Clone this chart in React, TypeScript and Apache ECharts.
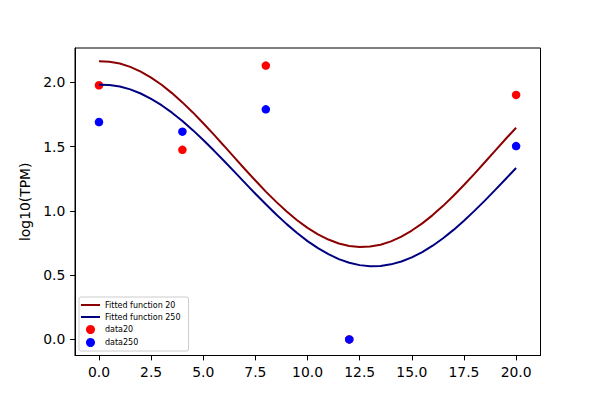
import React, { useEffect, useRef } from "react";
import * as echarts from "echarts";

const curveX = [
  0, 0.5, 1, 1.5, 2, 2.5, 3, 3.5, 4, 4.5, 5, 5.5, 6, 6.5, 7, 7.5, 8, 8.5, 9, 9.5, 10,
  10.5, 11, 11.5, 12, 12.5, 13, 13.5, 14, 14.5, 15, 15.5, 16, 16.5, 17, 17.5, 18, 18.5, 19, 19.5, 20,
];
const fit20 = [
  2.164, 2.160, 2.146, 2.120, 2.083, 2.037, 1.981, 1.916, 1.844, 1.766, 1.682, 1.595, 1.505, 1.414, 1.324, 1.236, 1.150, 1.070, 0.995, 0.927, 0.868,
  0.817, 0.777, 0.746, 0.727, 0.719, 0.723, 0.737, 0.763, 0.800, 0.847, 0.903, 0.967, 1.039, 1.118, 1.201, 1.288, 1.378, 1.469, 1.559, 1.647,
];
const fit250 = [
  1.982, 1.980, 1.968, 1.945, 1.913, 1.872, 1.822, 1.764, 1.699, 1.628, 1.551, 1.471, 1.388, 1.303, 1.218, 1.133, 1.051, 0.972, 0.897, 0.828, 0.765,
  0.710, 0.663, 0.625, 0.597, 0.578, 0.570, 0.571, 0.584, 0.606, 0.638, 0.679, 0.729, 0.787, 0.852, 0.923, 1.000, 1.080, 1.163, 1.248, 1.334,
];

const sampleX = [0, 4, 8, 12, 20];
const data20 = [1.977, 1.475, 2.13, 0.0, 1.902];
const data250 = [1.691, 1.616, 1.79, 0.0, 1.504];

const xTicks = [0, 2.5, 5, 7.5, 10, 12.5, 15, 17.5, 20];
const yTicks = [0, 0.5, 1.0, 1.5, 2.0];

const FONT = "DejaVu Sans";
const LINE_ICON = "path://M0,0L20,0L20,2.1L0,2.1Z";

export default function App() {
  const ref = useRef<HTMLDivElement>(null);
  useEffect(() => {
    if (!ref.current) return;
    const chart = echarts.init(ref.current, null, { renderer: "svg" });
    const pairs = (xs: number[], ys: number[]) => xs.map((x, i) => [x, ys[i]]);
    chart.setOption({
      animation: false,
      backgroundColor: "#ffffff",
      textStyle: { fontFamily: FONT },
      grid: {
        left: 75,
        right: 59.5,
        top: 48,
        bottom: 44.5,
        show: true,
        borderColor: "#000000",
        borderWidth: 1,
        backgroundColor: "transparent",
      },
      legend: {
        orient: "vertical",
        left: 79,
        top: 297,
        padding: [4, 8, 4, 2],
        itemWidth: 19,
        itemHeight: 9,
        itemGap: 4,
        symbolKeepAspect: true,
        backgroundColor: "rgba(255,255,255,0.8)",
        borderColor: "#cccccc",
        borderWidth: 1,
        borderRadius: 2,
        textStyle: { fontSize: 8, color: "#000000", fontFamily: FONT },
        data: [
          { name: "Fitted function 20", icon: LINE_ICON },
          { name: "Fitted function 250", icon: LINE_ICON },
          { name: "data20", icon: "circle" },
          { name: "data250", icon: "circle" },
        ],
      },
      xAxis: {
        type: "value",
        min: -1.15,
        max: 21.17,
        axisLine: { show: true, onZero: false, lineStyle: { color: "#000000", width: 1 } },
        axisTick: {
          show: true,
          inside: false,
          length: 4.9,
          lineStyle: { color: "#000000", width: 1 },
          customValues: xTicks,
        },
        axisLabel: {
          show: true,
          margin: 9.7,
          fontSize: 13.9,
          color: "#000000",
          fontFamily: FONT,
          customValues: xTicks,
          formatter: (v: number) => v.toFixed(1),
        },
        splitLine: { show: false },
      },
      yAxis: {
        type: "value",
        min: -0.125,
        max: 2.267,
        name: "log10(TPM)",
        nameLocation: "middle",
        nameGap: 37,
        nameTextStyle: { fontSize: 13.9, color: "#000000", fontFamily: FONT },
        axisLine: { show: true, onZero: false, lineStyle: { color: "#000000", width: 1 } },
        axisTick: {
          show: true,
          inside: false,
          length: 4.9,
          lineStyle: { color: "#000000", width: 1 },
          customValues: yTicks,
        },
        axisLabel: {
          show: true,
          margin: 9.7,
          fontSize: 13.9,
          color: "#000000",
          fontFamily: FONT,
          customValues: yTicks,
          formatter: (v: number) => v.toFixed(1),
        },
        splitLine: { show: false },
      },
      series: [
        {
          name: "Fitted function 20",
          type: "line",
          data: pairs(curveX, fit20),
          smooth: false,
          symbol: "none",
          showSymbol: false,
          z: 3,
          lineStyle: { color: "#8b0000", width: 2 },
          itemStyle: { color: "#8b0000" },
        },
        {
          name: "Fitted function 250",
          type: "line",
          data: pairs(curveX, fit250),
          smooth: false,
          symbol: "none",
          showSymbol: false,
          z: 3,
          lineStyle: { color: "#000080", width: 2 },
          itemStyle: { color: "#000080" },
        },
        {
          name: "data20",
          type: "scatter",
          data: pairs(sampleX, data20),
          symbol: "circle",
          symbolSize: 8.5,
          z: 1,
          itemStyle: { color: "#ff0000", opacity: 1 },
        },
        {
          name: "data250",
          type: "scatter",
          data: pairs(sampleX, data250),
          symbol: "circle",
          symbolSize: 8.5,
          z: 1,
          itemStyle: { color: "#0000ff", opacity: 1 },
        },
      ],
    });
    return () => chart.dispose();
  }, []);
  return (
    <div
      ref={ref}
      style={{ position: "absolute", left: 0, top: 0, width: 600, height: 400 }}
    />
  );
}
